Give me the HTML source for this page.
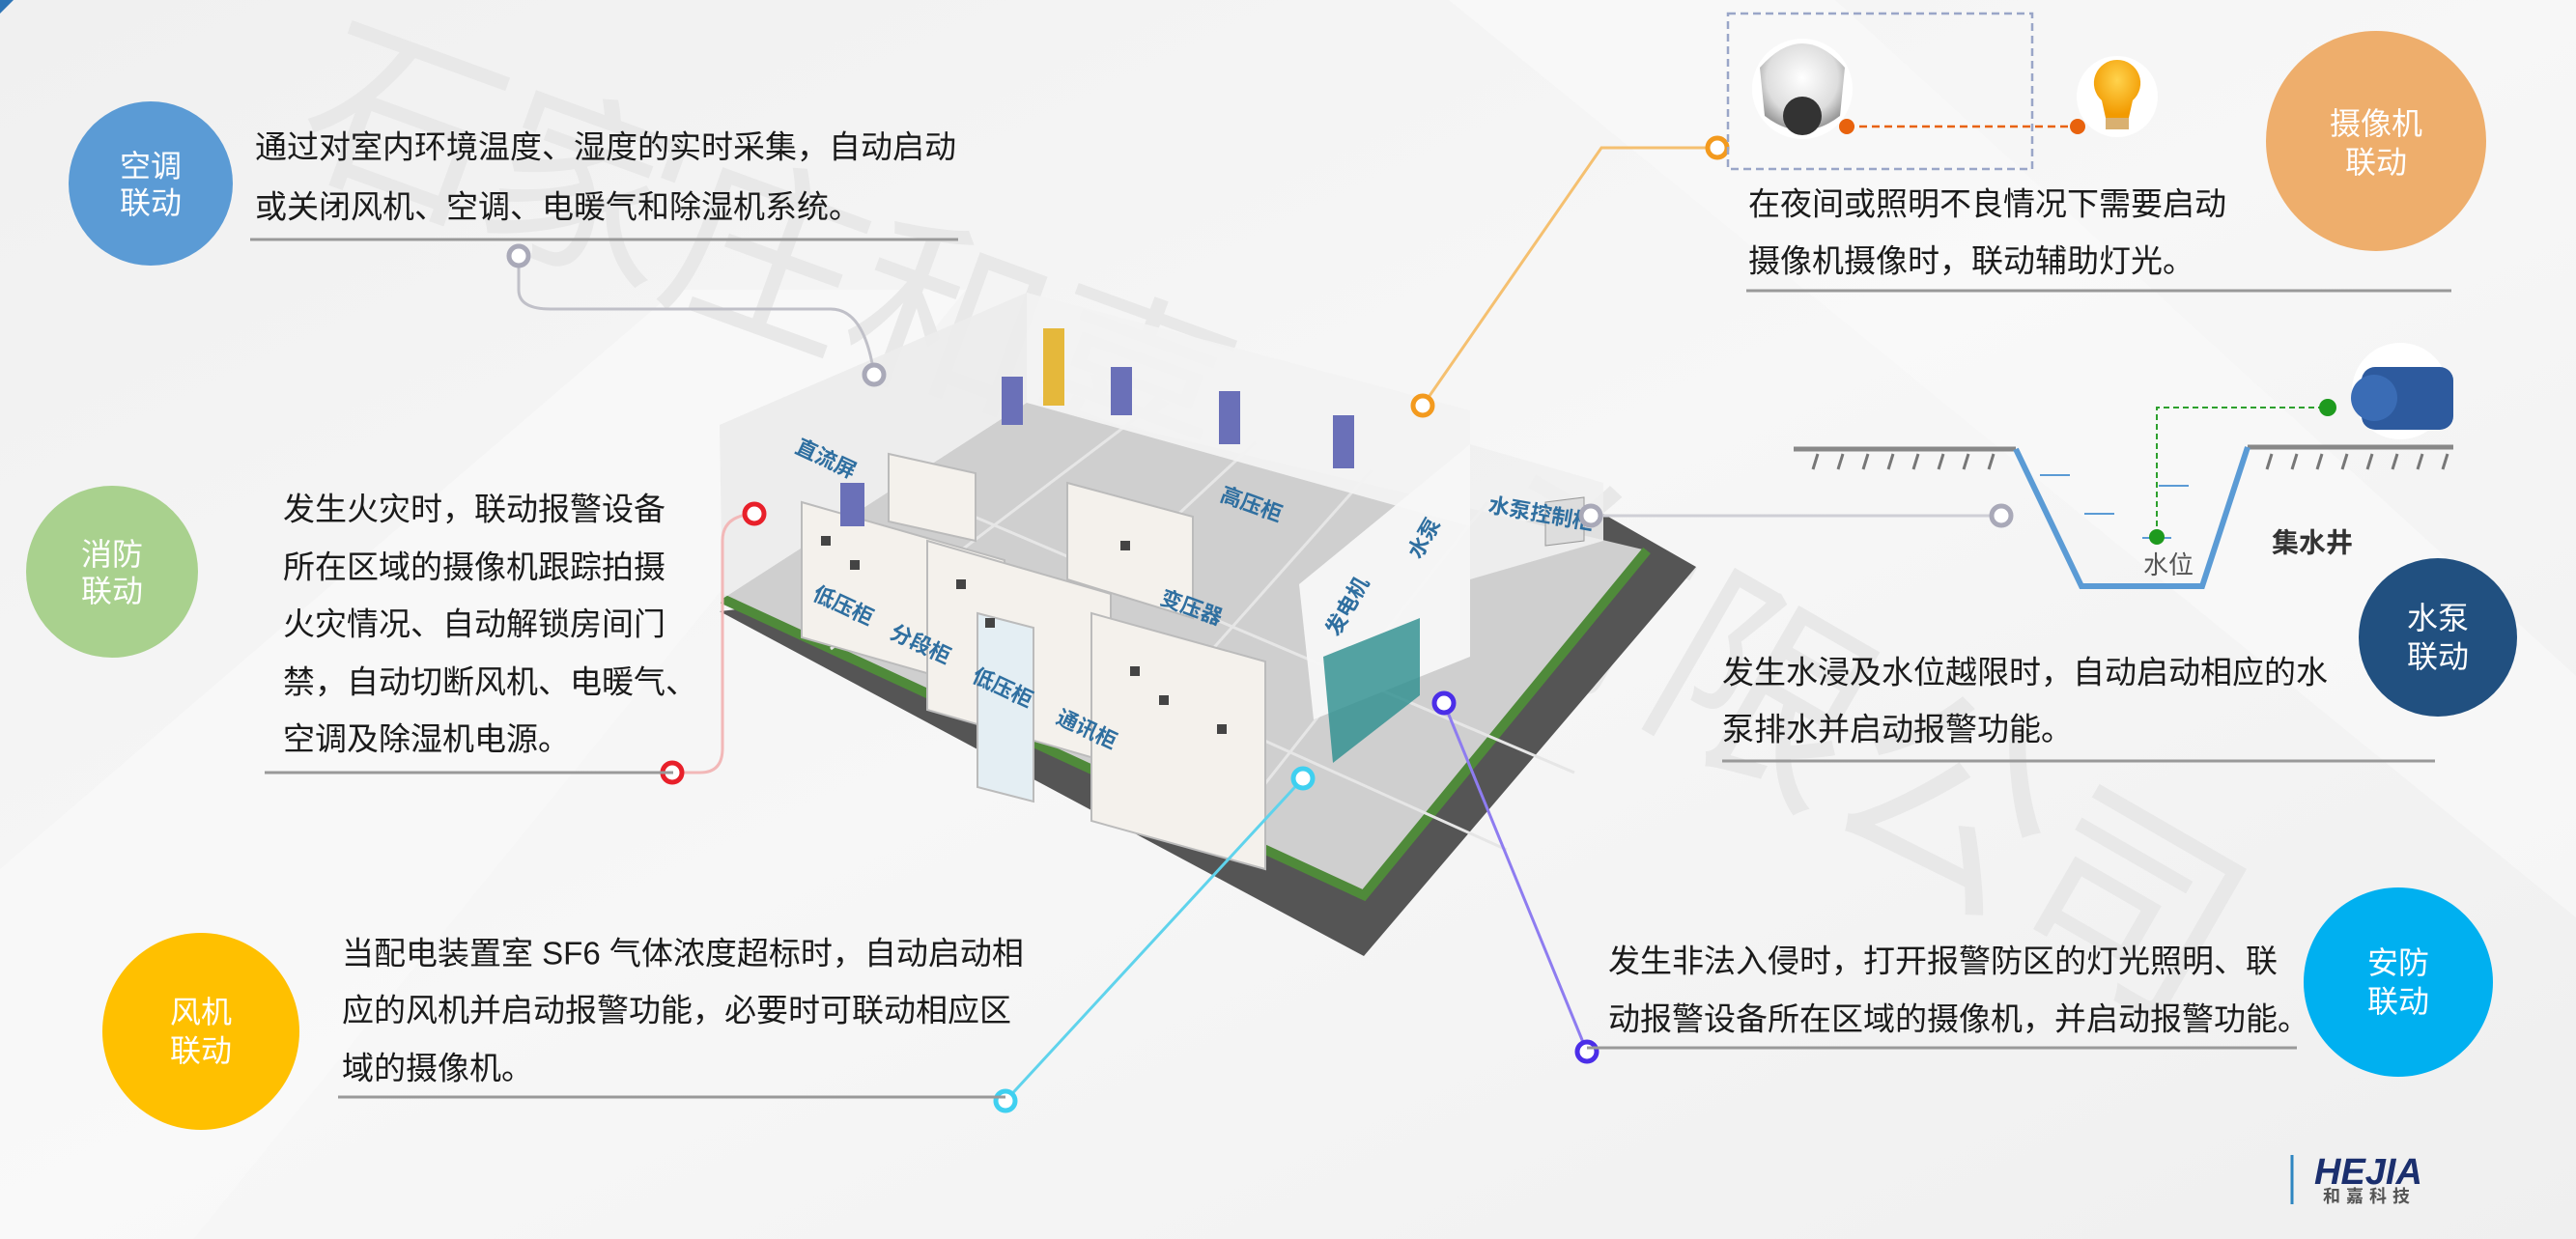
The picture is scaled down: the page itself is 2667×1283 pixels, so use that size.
<!DOCTYPE html>
<html><head><meta charset="utf-8">
<style>
html,body{margin:0;padding:0;background:#f3f3f3;}
svg{display:block;}
text{font-family:"Liberation Sans","Noto Sans CJK SC",sans-serif;}
</style></head>
<body>
<svg width="2667" height="1283" viewBox="0 0 2667 1283" xmlns="http://www.w3.org/2000/svg">
<defs>
<linearGradient id="bg" x1="0" y1="0" x2="1" y2="1">
<stop offset="0" stop-color="#f0f0f0"/><stop offset="0.5" stop-color="#f7f7f7"/><stop offset="1" stop-color="#efefef"/>
</linearGradient>
<radialGradient id="cam" cx="0.5" cy="0.4" r="0.6"><stop offset="0" stop-color="#fff"/><stop offset="0.7" stop-color="#ddd"/><stop offset="1" stop-color="#999"/></radialGradient>
<radialGradient id="bulb" cx="0.5" cy="0.35" r="0.6"><stop offset="0" stop-color="#ffd34d"/><stop offset="1" stop-color="#f29a00"/></radialGradient>
</defs>
<rect width="2667" height="1283" fill="url(#bg)"/>
<polygon points="0,900 700,300 1000,300 200,1283 0,1283" fill="#fafafa" opacity="0.7"/>
<polygon points="1500,0 1900,0 2667,700 2667,950" fill="#fafafa" opacity="0.6"/>
<polygon points="0,0 14,0 0,14" fill="#2e75b6"/>

<!-- watermark -->
<text x="300" y="160" font-size="200" fill="#e8e8e8" transform="rotate(20 300 160)">石家庄和嘉</text>
<text x="1500" y="620" font-size="220" fill="#e8e8e8" transform="rotate(30 1500 620)">有限公司</text>

<!-- building -->
<polygon points="745,633 1412,990 1756,587 1658,531" fill="#555"/>
<polygon points="748,620 1412,927 1705,570 1063,417" fill="#cfcfcf"/>
<polyline points="748,620 1412,927 1705,570" fill="none" stroke="#4f8a3a" stroke-width="10"/>
<g stroke="#e6e6e6" stroke-width="3">
<line x1="860" y1="672" x2="1180" y2="430"/><line x1="1000" y1="737" x2="1300" y2="458"/>
<line x1="1140" y1="802" x2="1420" y2="487"/><line x1="1270" y1="862" x2="1540" y2="520"/>
<line x1="850" y1="560" x2="1560" y2="880"/><line x1="950" y1="510" x2="1630" y2="800"/>
</g>
<polygon points="745,440 1063,303 1063,417 748,620" fill="#ececec" opacity="0.95"/>
<polygon points="1063,303 1522,425 1522,545 1063,417" fill="#f2f2f2" opacity="0.95"/>
<polygon points="1345,605 1522,460 1522,680 1360,745" fill="#f7f7f7" opacity="0.95"/>
<polygon points="1522,460 1660,500 1660,560 1522,600" fill="#f0f0f0" opacity="0.9"/>
<!-- cabinets -->
<g fill="#f4f1ec" stroke="#bbb" stroke-width="2">
<polygon points="830,520 1040,580 1040,720 830,660"/>
<polygon points="960,560 1150,615 1150,790 960,735"/>
<polygon points="1130,635 1310,685 1310,900 1130,850"/>
<polygon points="1105,500 1235,535 1235,640 1105,600"/>
<polygon points="920,470 1010,490 1010,560 920,540"/>
<polygon points="1012,635 1070,650 1070,830 1012,815" fill="#e4eef3"/>
</g>
<g fill="#444">
<rect x="850" y="555" width="10" height="10"/><rect x="880" y="580" width="10" height="10"/><rect x="990" y="600" width="10" height="10"/><rect x="1020" y="640" width="10" height="10"/><rect x="1170" y="690" width="10" height="10"/><rect x="1200" y="720" width="10" height="10"/><rect x="1260" y="750" width="10" height="10"/><rect x="1160" y="560" width="10" height="10"/>
</g>
<polygon points="1370,680 1470,640 1470,720 1380,790" fill="#2a8d8d" opacity="0.8"/>
<polygon points="1600,520 1640,515 1640,560 1600,565" fill="#ddd" stroke="#999"/>
<g fill="#6a70b8"><rect x="870" y="500" width="25" height="45"/><rect x="1037" y="390" width="22" height="50"/><rect x="1150" y="380" width="22" height="50"/><rect x="1262" y="405" width="22" height="55"/><rect x="1380" y="430" width="22" height="55"/></g>
<rect x="1080" y="340" width="22" height="80" fill="#e5b83b"/>
<g font-size="22" fill="#2f6fa0" font-weight="bold">
<text x="822" y="468" transform="rotate(25 822 468)">直流屏</text>
<text x="840" y="620" transform="rotate(25 840 620)">低压柜</text>
<text x="920" y="660" transform="rotate(25 920 660)">分段柜</text>
<text x="1005" y="705" transform="rotate(25 1005 705)">低压柜</text>
<text x="1092" y="748" transform="rotate(25 1092 748)">通讯柜</text>
<text x="1200" y="625" transform="rotate(20 1200 625)">变压器</text>
<text x="1262" y="518" transform="rotate(20 1262 518)">高压柜</text>
<text x="1540" y="530" transform="rotate(10 1540 530)">水泵控制柜</text>
<text x="1385" y="660" transform="rotate(-60 1385 660)">发电机</text>
<text x="1470" y="580" transform="rotate(-60 1470 580)">水泵</text>
</g>

<!-- connectors -->
<g fill="none" stroke-width="3">
<path d="M537,265 L537,300 Q537,320 570,320 L860,320 Q895,320 905,388" stroke="#c0c0c8"/>
<path d="M696,800 L725,800 Q748,800 748,775 L748,560 Q748,534 781,532" stroke="#f2b8b8"/>
<line x1="1041" y1="1140" x2="1349" y2="806" stroke="#5fd3ec"/>
<polyline points="1473,420 1658,153 1778,153" stroke="#f5c070"/>
<line x1="1647" y1="534" x2="2072" y2="534" stroke="#cfcfd6"/>
<line x1="1495" y1="728" x2="1643" y2="1089" stroke="#8e7cf0"/>
</g>
<g fill="#fff" stroke-width="5">
<circle cx="537" cy="265" r="10" stroke="#a9a9b8"/>
<circle cx="905" cy="388" r="10" stroke="#a9a9b8"/>
<circle cx="696" cy="800" r="10" stroke="#e8202a"/>
<circle cx="781" cy="532" r="10" stroke="#e8202a"/>
<circle cx="1041" cy="1140" r="10" stroke="#3fd0f0"/>
<circle cx="1349" cy="806" r="10" stroke="#3fd0f0"/>
<circle cx="1473" cy="420" r="10" stroke="#f39a1e"/>
<circle cx="1778" cy="153" r="10" stroke="#f39a1e"/>
<circle cx="1647" cy="534" r="10" stroke="#a9a9b8"/>
<circle cx="2072" cy="534" r="10" stroke="#a9a9b8"/>
<circle cx="1495" cy="728" r="10" stroke="#4b2ee8"/>
<circle cx="1643" cy="1089" r="10" stroke="#4b2ee8"/>
</g>

<!-- underlines -->
<g stroke="#999" stroke-width="3">
<line x1="259" y1="248" x2="992" y2="248"/>
<line x1="274" y1="800" x2="697" y2="800"/>
<line x1="350" y1="1136" x2="1041" y2="1136"/>
<line x1="1808" y1="301" x2="2538" y2="301"/>
<line x1="1783" y1="788" x2="2521" y2="788"/>
<line x1="1643" y1="1085" x2="2378" y2="1085"/>
</g>

<!-- body texts -->
<g font-size="33" fill="#1a1a1a" dominant-baseline="central">
<text x="264" y="152">通过对室内环境温度、湿度的实时采集，自动启动</text>
<text x="264" y="214">或关闭风机、空调、电暖气和除湿机系统。</text>
<text x="293" y="527">发生火灾时，联动报警设备</text>
<text x="293" y="587">所在区域的摄像机跟踪拍摄</text>
<text x="293" y="646">火灾情况、自动解锁房间门</text>
<text x="293" y="706">禁，自动切断风机、电暖气、</text>
<text x="293" y="765">空调及除湿机电源。</text>
<text x="354" y="987">当配电装置室 SF6 气体浓度超标时，自动启动相</text>
<text x="354" y="1046">应的风机并启动报警功能，必要时可联动相应区</text>
<text x="354" y="1106">域的摄像机。</text>
<text x="1810" y="211">在夜间或照明不良情况下需要启动</text>
<text x="1810" y="270">摄像机摄像时，联动辅助灯光。</text>
<text x="1783" y="696">发生水浸及水位越限时，自动启动相应的水</text>
<text x="1783" y="755">泵排水并启动报警功能。</text>
<text x="1665" y="995">发生非法入侵时，打开报警防区的灯光照明、联</text>
<text x="1665" y="1055">动报警设备所在区域的摄像机，并启动报警功能。</text>
</g>

<!-- circles -->
<circle cx="156" cy="190" r="85" fill="#5b9bd5"/>
<circle cx="116" cy="592" r="89" fill="#a9d18e"/>
<circle cx="208" cy="1068" r="102" fill="#ffc000"/>
<circle cx="2460" cy="146" r="114" fill="#eeae6c"/>
<circle cx="2524" cy="660" r="82" fill="#215080"/>
<circle cx="2483" cy="1017" r="98" fill="#00b0f0"/>
<g font-size="32" fill="#fff" text-anchor="middle" dominant-baseline="central">
<text x="156" y="172">空调</text><text x="156" y="210">联动</text>
<text x="116" y="574">消防</text><text x="116" y="612">联动</text>
<text x="208" y="1048">风机</text><text x="208" y="1088">联动</text>
<text x="2460" y="128">摄像机</text><text x="2460" y="168">联动</text>
<text x="2524" y="640">水泵</text><text x="2524" y="680">联动</text>
<text x="2483" y="997">安防</text><text x="2483" y="1037">联动</text>
</g>

<!-- camera box -->
<rect x="1789" y="14" width="315" height="161" fill="none" stroke="#9aa6c8" stroke-width="2.5" stroke-dasharray="8,5"/>
<circle cx="1866" cy="92" r="52" fill="#fff"/>
<path d="M1822,70 Q1866,20 1910,70 L1905,120 Q1866,150 1827,120 Z" fill="url(#cam)"/>
<circle cx="1866" cy="120" r="20" fill="#333"/>
<circle cx="2192" cy="100" r="42" fill="#fff"/>
<path d="M2192,62 a24,24 0 0 1 16,42 l-4,18 h-24 l-4,-18 a24,24 0 0 1 16,-42z" fill="url(#bulb)"/>
<rect x="2180" y="122" width="24" height="12" fill="#d9b070"/>
<line x1="1912" y1="131" x2="2151" y2="131" stroke="#e8620d" stroke-width="2.5" stroke-dasharray="8,5"/>
<circle cx="1912" cy="131" r="8" fill="#e8620d"/><circle cx="2151" cy="131" r="8" fill="#e8620d"/>

<!-- water well -->
<g stroke="#888" stroke-width="5"><line x1="1857" y1="465" x2="2087" y2="465"/><line x1="2327" y1="463" x2="2540" y2="463"/></g>
<g stroke="#777" stroke-width="3">
<line x1="1882" y1="470" x2="1877" y2="486"/><line x1="1908" y1="470" x2="1903" y2="486"/><line x1="1934" y1="470" x2="1929" y2="486"/><line x1="1960" y1="470" x2="1955" y2="486"/><line x1="1986" y1="470" x2="1981" y2="486"/><line x1="2012" y1="470" x2="2007" y2="486"/><line x1="2038" y1="470" x2="2033" y2="486"/><line x1="2064" y1="470" x2="2059" y2="486"/>
<line x1="2352" y1="470" x2="2347" y2="486"/><line x1="2378" y1="470" x2="2373" y2="486"/><line x1="2404" y1="470" x2="2399" y2="486"/><line x1="2430" y1="470" x2="2425" y2="486"/><line x1="2456" y1="470" x2="2451" y2="486"/><line x1="2482" y1="470" x2="2477" y2="486"/><line x1="2508" y1="470" x2="2503" y2="486"/><line x1="2534" y1="470" x2="2529" y2="486"/>
</g>
<polyline points="2087,465 2155,607 2280,607 2327,463" fill="none" stroke="#5b9bd5" stroke-width="6"/>
<g stroke="#5b9bd5" stroke-width="2"><line x1="2112" y1="492" x2="2143" y2="492"/><line x1="2158" y1="532" x2="2189" y2="532"/><line x1="2235" y1="503" x2="2266" y2="503"/><line x1="2218" y1="557" x2="2248" y2="557"/></g>
<polyline points="2233,555 2233,422 2410,422" fill="none" stroke="#2ea02e" stroke-width="2" stroke-dasharray="6,4"/>
<circle cx="2233" cy="556" r="8" fill="#1e9a1e"/><circle cx="2410" cy="422" r="9" fill="#1e9a1e"/>
<circle cx="2485" cy="405" r="50" fill="#fff"/>
<rect x="2445" y="380" width="95" height="65" rx="14" fill="#2d5a9e"/>
<circle cx="2458" cy="412" r="24" fill="#3a6cb5"/>
<text x="2219" y="585" font-size="26" fill="#555" dominant-baseline="central">水位</text>
<text x="2352" y="562" font-size="28" fill="#333" font-weight="bold" dominant-baseline="central">集水井</text>

<!-- logo -->
<line x1="2373" y1="1196" x2="2373" y2="1247" stroke="#2e86c1" stroke-width="3"/>
<text x="2396" y="1226" font-size="38" font-weight="bold" font-style="italic" fill="#1b2f6e">HEJIA</text>
<text x="2405" y="1245" font-size="18" font-weight="bold" fill="#555" letter-spacing="6">和嘉科技</text>
</svg>
</body></html>
